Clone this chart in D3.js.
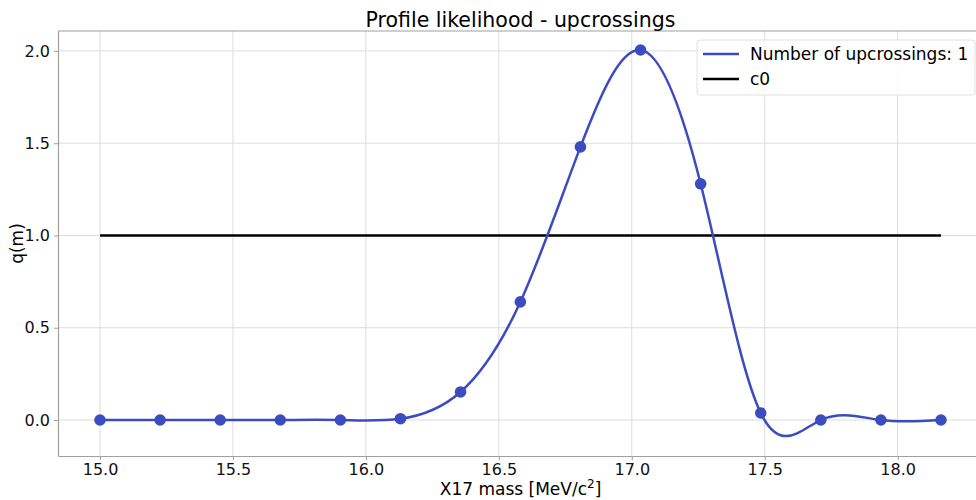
<!DOCTYPE html>
<html>
<head>
<meta charset="utf-8">
<script src="https://cdn.jsdelivr.net/npm/d3@7"></script>
<style>
  body { margin: 0; background: #fff; }
  svg { font-family: "DejaVu Sans", sans-serif; display: block; }
</style>
</head>
<body>
<svg id="chart"></svg>
<script>
// data
const masses = [15.00, 15.226, 15.452, 15.678, 15.904, 16.13, 16.356, 16.581, 16.807, 17.033, 17.259, 17.485, 17.711, 17.937, 18.163];
const qValues = [0.0, 0.0, 0.0, 0.0, 0.0, 0.007, 0.152, 0.64, 1.48, 2.005, 1.28, 0.038, 0.0, 0.0, 0.0];
const c0Value = 1.0;
const xTicks = [15.0, 15.5, 16.0, 16.5, 17.0, 17.5, 18.0];
const yTicks = [0.0, 0.5, 1.0, 1.5, 2.0];
const seriesLabels = ['Number of upcrossings: 1', 'c0'];
const seriesColors = ['#3b4cc0', '#000000'];

const width = 976, height = 500;
const margin = {top: 31, left: 58, bottom: 44};

const svg = d3.select('#chart')
    .attr('width', width)
    .attr('height', height);

const x = d3.scaleLinear()
    .domain([14.842, 18.321])
    .range([margin.left, 983]);

const y = d3.scaleLinear()
    .domain([-0.195, 2.108])
    .range([height - margin.bottom, margin.top]);

const data = masses.map((m, i) => ({m: m, q: qValues[i]}));

// grid
const grid = svg.append('g');
grid.selectAll('.gx').data(xTicks).join('line')
    .attr('x1', d => x(d)).attr('x2', d => x(d))
    .attr('y1', margin.top).attr('y2', height - margin.bottom)
    .attr('stroke', '#dcdcdc').attr('stroke-width', 1);
grid.selectAll('.gy').data(yTicks).join('line')
    .attr('x1', margin.left).attr('x2', width)
    .attr('y1', d => y(d)).attr('y2', d => y(d))
    .attr('stroke', '#dcdcdc').attr('stroke-width', 1);

// axes
const xaxis = d3.axisBottom(x)
    .tickValues(xTicks)
    .tickFormat(d3.format('.1f'))
    .tickSize(4)
    .tickSizeOuter(0)
    .tickPadding(4);
const yaxis = d3.axisLeft(y)
    .tickValues(yTicks)
    .tickFormat(d3.format('.1f'))
    .tickSize(4)
    .tickSizeOuter(0)
    .tickPadding(4);

const xg = svg.append('g')
    .attr('transform', `translate(0, ${height - margin.bottom})`)
    .call(xaxis);
const yg = svg.append('g')
    .attr('transform', `translate(${margin.left}, 0)`)
    .call(yaxis);

[xg, yg].forEach(g => {
    g.attr('font-family', 'DejaVu Sans').attr('font-size', 16);
    g.select('.domain').attr('stroke', '#a0a0a0').attr('stroke-width', 1.2);
    g.selectAll('.tick line').attr('stroke', '#a0a0a0');
    g.selectAll('.tick text').attr('fill', '#111');
});

// top spine
svg.append('line')
    .attr('x1', margin.left).attr('x2', width)
    .attr('y1', margin.top).attr('y2', margin.top)
    .attr('stroke', '#a0a0a0').attr('stroke-width', 1.2);

// c0 line
svg.append('line')
    .attr('x1', x(masses[0])).attr('x2', x(masses[masses.length - 1]))
    .attr('y1', y(c0Value)).attr('y2', y(c0Value))
    .attr('stroke', seriesColors[1])
    .attr('stroke-width', 2.5);

// spline curve
const line = d3.line()
    .x(d => x(d.m))
    .y(d => y(d.q))
    .curve(d3.curveNatural);

svg.append('path')
    .attr('d', line(data))
    .attr('fill', 'none')
    .attr('stroke', seriesColors[0])
    .attr('stroke-width', 2.5);

svg.selectAll('circle.pt')
    .data(data)
    .join('circle')
    .attr('class', 'pt')
    .attr('cx', d => x(d.m))
    .attr('cy', d => y(d.q))
    .attr('r', 5.8)
    .attr('fill', seriesColors[0]);

// title & labels
svg.append('text')
    .attr('x', (margin.left + 983) / 2)
    .attr('y', 27)
    .attr('text-anchor', 'middle')
    .style('font-size', '20.5px')
    .text('Profile likelihood - upcrossings');

const xl = svg.append('text')
    .attr('x', (margin.left + 983) / 2)
    .attr('y', 495)
    .attr('text-anchor', 'middle')
    .style('font-size', '17px');
xl.append('tspan').text('X17 mass [MeV/c');
xl.append('tspan').attr('dy', -7).style('font-size', '12px').text('2');
xl.append('tspan').attr('dy', 7).text(']');

svg.append('text')
    .attr('transform', `translate(23, ${(margin.top + height - margin.bottom) / 2}) rotate(-90)`)
    .attr('text-anchor', 'middle')
    .style('font-size', '17px')
    .text('q(m)');

// legend
const legend = svg.append('g').attr('transform', 'translate(697, 40)');
legend.append('rect')
    .attr('width', 278).attr('height', 55)
    .attr('rx', 3)
    .attr('fill', 'rgba(255,255,255,0.85)')
    .attr('stroke', '#e0e0e0');
seriesLabels.forEach((lab, i) => {
    const ly = 14 + i * 25;
    legend.append('line')
        .attr('x1', 6).attr('x2', 42)
        .attr('y1', ly).attr('y2', ly)
        .attr('stroke', seriesColors[i])
        .attr('stroke-width', 2.5);
    legend.append('text')
        .attr('x', 53).attr('y', ly + 6)
        .style('font-size', '17px')
        .text(lab);
});
</script>
</body>
</html>
